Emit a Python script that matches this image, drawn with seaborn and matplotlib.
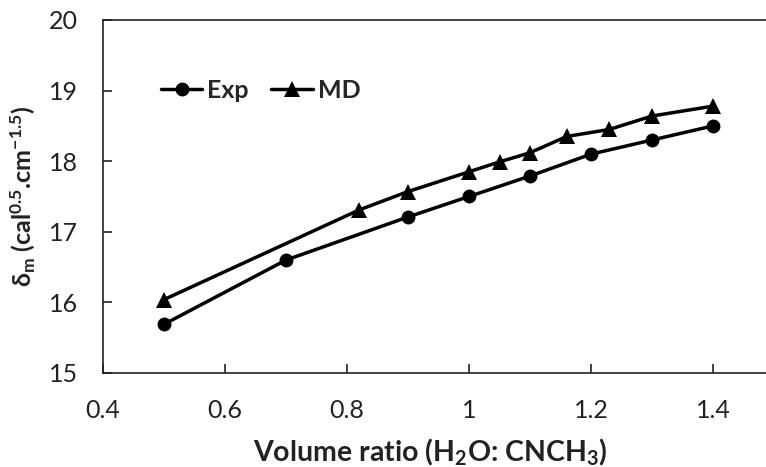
import numpy as np
import pandas as pd
import matplotlib
matplotlib.use("Agg")
import matplotlib.pyplot as plt
import seaborn as sns

# values
exp_x = [0.5, 0.7, 0.9, 1.0, 1.1, 1.2, 1.3, 1.4]
exp_y = [15.69, 16.6, 17.21, 17.5, 17.79, 18.1, 18.3, 18.5]
md_x = [0.5, 0.82, 0.9, 1.0, 1.05, 1.1, 1.16, 1.23, 1.3, 1.4]
md_y = [16.04, 17.31, 17.57, 17.85, 17.99, 18.12, 18.35, 18.45, 18.64, 18.78]

x_ticks = [0.4, 0.6, 0.8, 1.0, 1.2, 1.4]
x_ticklabels = ["0.4", "0.6", "0.8", "1", "1.2", "1.4"]
y_ticks = [15, 16, 17, 18, 19, 20]

sns.set_style("ticks")
plt.rcParams["font.family"] = ["Lato", "DejaVu Sans"]
plt.rcParams["mathtext.default"] = "regular"

W, H = 766, 467
fig = plt.figure(figsize=(W / 100, H / 100), dpi=100)
# plot frame runs past the right edge of the picture (cropped original)
x0, x1 = 103, 835
y0, y1 = 20, 373
ax = fig.add_axes([x0 / W, 1 - y1 / H, (x1 - x0) / W, (y1 - y0) / H])

df_exp = pd.DataFrame({"x": exp_x, "y": exp_y})
df_md = pd.DataFrame({"x": md_x, "y": md_y})

sns.lineplot(data=df_exp, x="x", y="y", ax=ax, color="black", lw=2.5,
             marker="o", markersize=10, markeredgewidth=0, label="Exp")
sns.lineplot(data=df_md, x="x", y="y", ax=ax, color="black", lw=2.5,
             marker="^", markersize=11, markeredgewidth=0, label="MD")

ax.set_xlim(0.4, 1.6)
ax.set_ylim(15, 20)
ax.set_xticks(x_ticks)
ax.set_xticklabels(x_ticklabels)
ax.set_yticks(y_ticks)

for s in ax.spines.values():
    s.set_linewidth(1.2)
    s.set_color("#222222")
ax.tick_params(axis="both", direction="in", length=6.5, width=1.2,
               color="#222222", labelsize=18, labelcolor="#222222")
ax.tick_params(axis="y", pad=18)
ax.tick_params(axis="x", pad=19)

ax.set_xlabel("Volume ratio (H$_2$O: CNCH$_3$)", fontsize=20.5,
              fontweight="bold", color="#222222")
ax.xaxis.set_label_coords((430 - x0) / (x1 - x0), -(437 - y1) / (y1 - y0))
ax.set_ylabel("δ$_m$ (cal$^{0.5}$.cm$^{-1.5}$)", fontsize=18,
              fontweight="bold", color="#222222", labelpad=8)

leg = ax.legend(loc="center left",
                bbox_to_anchor=((161 - x0) / (x1 - x0), 1 - (90 - y0) / (y1 - y0)),
                frameon=False, ncol=2, handlelength=1.65, columnspacing=0.9,
                handletextpad=0.2, borderaxespad=0, borderpad=0,
                prop={"weight": "bold", "size": 18})

fig.savefig("out.png", dpi=100)
